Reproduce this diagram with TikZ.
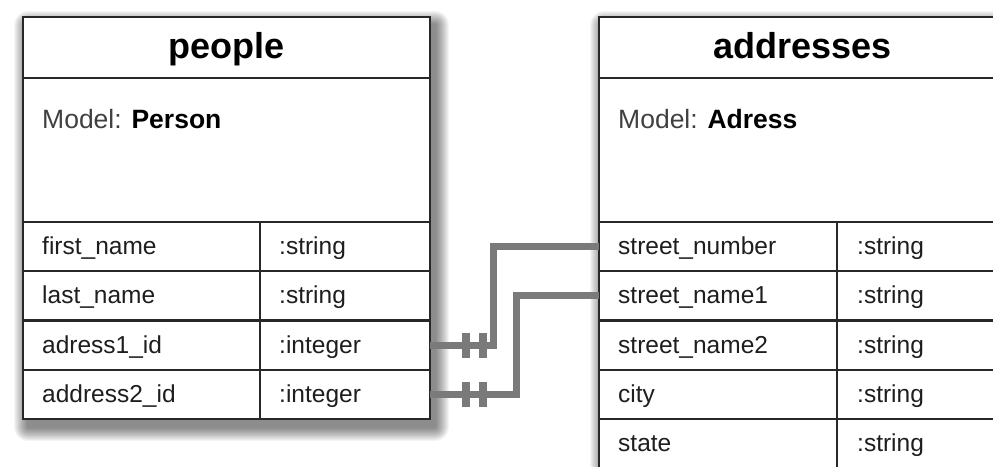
\documentclass[tikz,border=0pt]{standalone}
\usepackage{fontspec}
\setmainfont{Liberation Sans}
\definecolor{conncol}{RGB}{122,122,122}
\definecolor{linecol}{RGB}{40,40,40}
\definecolor{txtcol}{RGB}{30,30,30}
\newcommand\tbltitlefont{\fontsize{36}{40}\selectfont\bfseries}
\newcommand\tblmodelfont{\fontsize{26.5}{30}\selectfont}
\newcommand\tblfieldfont{\fontsize{24.5}{28}\selectfont}
\tikzset{
  cellbox/.style={draw=linecol, line width=2.2pt, fill=white, inner sep=0pt, outer sep=0pt, anchor=north west},
  titletxt/.style={anchor=base, inner sep=0pt, font=\tbltitlefont, text=black},
  modeltxt/.style={anchor=base west, inner sep=0pt, font=\tblmodelfont, text=black!75},
  fieldtxt/.style={anchor=base west, inner sep=0pt, font=\tblfieldfont, text=txtcol},
  conn/.style={draw=conncol, line width=7pt, line join=miter},
  crossbar/.style={draw=conncol, line width=8pt}
}
\newcommand\tblshadow[4]{%
  \foreach \r in {1,...,14}{
    \fill[black, opacity=0.04, rounded corners=\r pt]
      ({#1+5-\r},{#2+8-\r}) rectangle ({#3+5+\r},{#4+8+\r});
  }%
}
\begin{document}
\begin{tikzpicture}[x=1pt, y=-1pt]
\useasboundingbox (0,0) rectangle (993,466);
\clip (0,0) rectangle (993,466);
\fill[white] (0,0) rectangle (993,466);

% ---------- shadows ----------
\tblshadow{23}{17}{430}{419}
\tblshadow{599}{17}{1006}{468}

% ---------- table: people ----------
\node[cellbox, minimum width=407, minimum height=61] (ptitle) at (23,17) {};
\node[cellbox, minimum width=407, minimum height=144] (pmodel) at (23,78) {};
\node[titletxt] (ptitletxt) at ([yshift=-41pt]ptitle.north) {people};
\node[modeltxt] (pmodeltxt) at ([xshift=19pt, yshift=-50pt]pmodel.north west) {Model: \textbf{\color{black}Person}};
\foreach \i/\nm/\ty in {1/first\_name/:string, 2/last\_name/:string, 3/adress1\_id/:integer, 4/address2\_id/:integer}{
  \pgfmathsetmacro\yy{222+(\i-1)*49.25}
  \node[cellbox, minimum width=237, minimum height=49.25] (pn\i) at (23,\yy) {};
  \node[cellbox, minimum width=170, minimum height=49.25] (pt\i) at (260,\yy) {};
  \node[fieldtxt] (pnl\i) at ([xshift=19pt, yshift=-32.5pt]pn\i.north west) {\nm};
  \node[fieldtxt] (ptl\i) at ([xshift=19pt, yshift=-32.5pt]pt\i.north west) {\ty};
}

% ---------- table: addresses ----------
\node[cellbox, minimum width=407, minimum height=61] (atitle) at (599,17) {};
\node[cellbox, minimum width=407, minimum height=144] (amodel) at (599,78) {};
\node[titletxt] (atitletxt) at ([yshift=-41pt]atitle.north) {addresses};
\node[modeltxt] (amodeltxt) at ([xshift=19pt, yshift=-50pt]amodel.north west) {Model: \textbf{\color{black}Adress}};
\foreach \i/\nm/\ty in {1/street\_number/:string, 2/street\_name1/:string, 3/street\_name2/:string, 4/city/:string, 5/state/:string}{
  \pgfmathsetmacro\yy{222+(\i-1)*49.25}
  \node[cellbox, minimum width=238, minimum height=49.25] (an\i) at (599,\yy) {};
  \node[cellbox, minimum width=169, minimum height=49.25] (at\i) at (837,\yy) {};
  \node[fieldtxt] (anl\i) at ([xshift=19pt, yshift=-32.5pt]an\i.north west) {\nm};
  \node[fieldtxt] (atl\i) at ([xshift=20pt, yshift=-32.5pt]at\i.north west) {\ty};
}

% ---------- connectors ----------
\draw[conn] (pt3.east) -- ++(63,0) |- (an1.west);
\draw[conn] (pt4.east) -- ++(86,0) |- (an2.west);
\foreach \k in {3,4}{
  \coordinate (bara\k) at ([xshift=36pt]pt\k.east);
  \coordinate (barb\k) at ([xshift=52.5pt]pt\k.east);
  \draw[crossbar] ([yshift=12.5pt]bara\k) -- ([yshift=-12.5pt]bara\k);
  \draw[crossbar] ([yshift=12.5pt]barb\k) -- ([yshift=-12.5pt]barb\k);
}
\end{tikzpicture}
\end{document}
